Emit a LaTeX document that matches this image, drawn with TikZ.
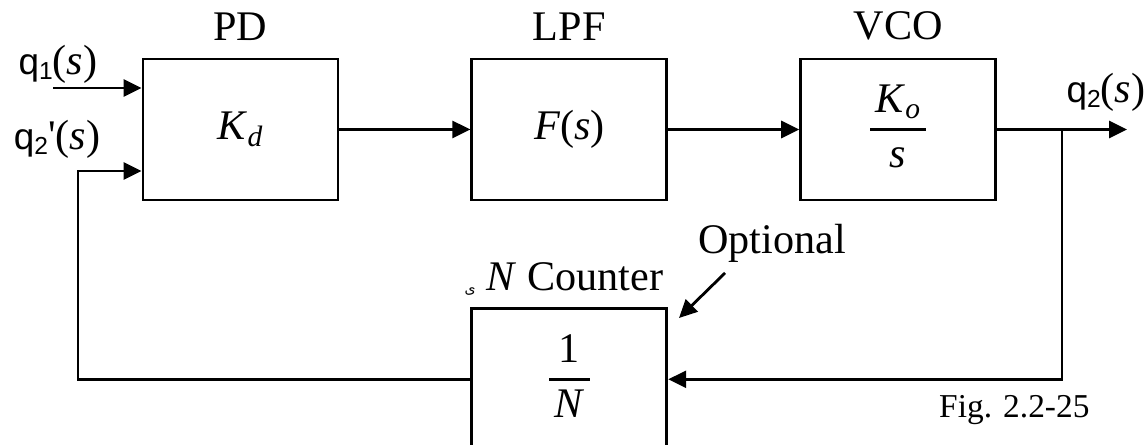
\documentclass[tikz,border=0pt]{standalone}
\usepackage{fontspec}
\setmainfont{Liberation Serif}
\newfontfamily\qfont{Liberation Sans}
\newfontfamily\arabicfont[Script=Arabic]{DejaVu Sans}
\usetikzlibrary{arrows.meta, positioning}

\tikzset{
  block/.style={draw, line width=1.6pt, minimum width=3.9cm, minimum height=2.82cm},
  sig/.style={line width=1.6pt, -{Triangle[length=0.36cm,width=0.34cm]}},
  lbl/.style={inner sep=0pt}
}
\newcommand{\qsig}[1]{{\qfont\fontsize{21}{21}\selectfont q}\raisebox{-0.1cm}{\qfont\fontsize{14}{14}\selectfont #1}}
\newcommand{\thickfrac}[2]{\setlength{\arrayrulewidth}{1.8pt}\renewcommand{\arraystretch}{1.05}\begin{tabular}{@{\hspace{3pt}}c@{\hspace{3pt}}}#1\\\hline #2\end{tabular}}

\begin{document}
\begin{tikzpicture}[font=\fontsize{24}{28}\selectfont]
  \useasboundingbox (0,0) rectangle (22.92,8.9);

  % forward path
  \node[block] (pd) at (4.81,6.31) {\textit{K}\textsubscript{\textit{d}}};
  \node[block, right=2.62cm of pd] (lpf) {\textit{F}(\textit{s})};
  \node[block, right=2.62cm of lpf] (vco) {\thickfrac{\textit{K}\textsubscript{\textit{o}}}{\textit{s}}};
  \node[block, below=2.12cm of lpf] (div) {\thickfrac{1}{\textit{N}}};

  \node[lbl, above=0.34cm of pd] (pdname) {PD};
  \node[lbl, above=0.34cm of lpf] (lpfname) {LPF};
  \node[lbl, above=0.34cm of vco] (vconame) {VCO};

  % inputs
  \coordinate (q1in) at (1.06,7.14);
  \coordinate (fbcorner) at (1.56,5.48);
  \draw[sig] (q1in) -- (q1in -| pd.west);
  \draw[sig] (div.west) -| (fbcorner) -- (fbcorner -| pd.west);
  \draw[sig] (pd) -- (lpf);
  \draw[sig] (lpf) -- (vco);

  % output and feedback
  \coordinate[right=1.3cm of vco.east] (split);
  \coordinate[right=1.3cm of split] (q2out);
  \draw[sig] (vco.east) -- (q2out);
  \draw[sig] (split) |- (div.east);

  \node (q1lbl) at (1.16,7.62) {\qsig{1}(\textit{s})};
  \node (q2flbl) at (1.14,6.12) {\qsig{2}\textquotesingle(\textit{s})};
  \node (q2lbl) at (22.12,7.06) {\qsig{2}(\textit{s})};

  \node (cntlbl) at (11.5,3.36) {\textit{N} Counter};
  \node (mark) at (9.4,3.06) {\arabicfont\fontsize{8}{8}\selectfont ى};
  \node (optlbl) at (15.44,4.04) {Optional};
  \coordinate (optfrom) at (14.5,3.44);
  \coordinate (optto) at (13.58,2.54);
  \draw[sig] (optfrom) -- (optto);

  \node[anchor=west, font=\fontsize{19}{22}\selectfont] (fig) at (18.66,0.7) {Fig. 2.2-25};
\end{tikzpicture}
\end{document}
